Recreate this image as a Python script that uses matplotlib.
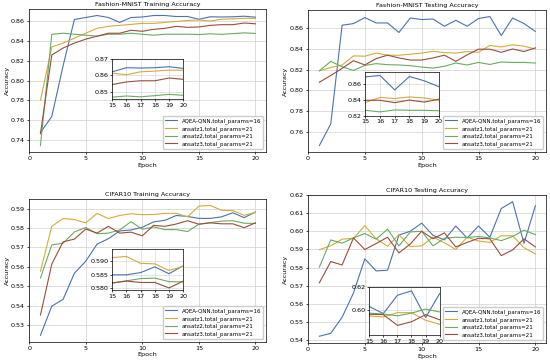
import matplotlib
matplotlib.use("Agg")
import matplotlib.pyplot as plt
import numpy as np

epochs = list(range(1, 21))
labels = ["AQEA-QNN,total_params=16", "ansatz1,total_params=21",
          "ansatz2,total_params=21", "ansatz3,total_params=21"]
colors = ["#4c72b0", "#d1ac3c", "#6aab62", "#9a4d3c"]

fm_train_aqea = [0.7472, 0.7634, 0.815, 0.862, 0.864, 0.866, 0.864, 0.859, 0.864, 0.8645,
                 0.866, 0.866, 0.865, 0.865, 0.8622, 0.8647, 0.8645, 0.8647, 0.8653, 0.8643]
fm_train_a1 = [0.780, 0.834, 0.838, 0.843, 0.848, 0.853, 0.855, 0.856, 0.857, 0.858,
               0.858, 0.859, 0.860, 0.861, 0.8614, 0.8604, 0.8622, 0.8626, 0.8632, 0.8632]
fm_train_a2 = [0.734, 0.8469, 0.848, 0.847, 0.846, 0.845, 0.847, 0.847, 0.848, 0.847,
               0.846, 0.847, 0.847, 0.847, 0.8467, 0.8474, 0.8469, 0.8476, 0.8484, 0.8478]
fm_train_a3 = [0.746, 0.8259, 0.833, 0.838, 0.842, 0.845, 0.848, 0.848, 0.851, 0.850,
               0.852, 0.853, 0.855, 0.854, 0.8544, 0.856, 0.8567, 0.8567, 0.8584, 0.8576]

fm_test_aqea = [0.7465, 0.7674, 0.863, 0.8646, 0.8704, 0.8652, 0.8652, 0.856, 0.870, 0.8685,
                0.869, 0.862, 0.8678, 0.862, 0.8695, 0.8714, 0.853, 0.870, 0.8646, 0.857]
fm_test_a1 = [0.8189, 0.822, 0.8245, 0.8333, 0.833, 0.836, 0.834, 0.8339, 0.835, 0.836,
              0.8378, 0.8365, 0.836, 0.8375, 0.8368, 0.8434, 0.842, 0.844, 0.8427, 0.840]
fm_test_a2 = [0.8189, 0.828, 0.8228, 0.8192, 0.8241, 0.8258, 0.8248, 0.8245, 0.8238, 0.8225,
              0.8215, 0.8232, 0.8264, 0.8245, 0.827, 0.825, 0.8274, 0.827, 0.827, 0.8264]
fm_test_a3 = [0.8078, 0.8143, 0.8212, 0.8287, 0.8245, 0.8307, 0.834, 0.8313, 0.8293, 0.8293,
              0.8313, 0.834, 0.828, 0.8343, 0.8398, 0.8398, 0.8368, 0.840, 0.8375, 0.8411]

cf_train_aqea = [0.5246, 0.5397, 0.5432, 0.5567, 0.5629, 0.5717, 0.5745, 0.5785, 0.579, 0.5804,
                 0.5832, 0.584, 0.5865, 0.586, 0.585, 0.585, 0.5858, 0.5879, 0.5854, 0.5883]
cf_train_a1 = [0.5577, 0.5809, 0.5849, 0.5844, 0.5827, 0.5876, 0.5849, 0.5865, 0.5874, 0.5869,
               0.587, 0.5876, 0.5876, 0.5858, 0.5913, 0.5917, 0.5892, 0.589, 0.5866, 0.5881]
cf_train_a2 = [0.5542, 0.5713, 0.5722, 0.578, 0.5803, 0.5771, 0.5774, 0.579, 0.5833, 0.5794,
               0.5806, 0.5792, 0.5792, 0.5782, 0.582, 0.5828, 0.5836, 0.5838, 0.5825, 0.5824]
cf_train_a3 = [0.5351, 0.5614, 0.5729, 0.5743, 0.5795, 0.5774, 0.5809, 0.5774, 0.5779, 0.576,
               0.5814, 0.5809, 0.5821, 0.5838, 0.582, 0.5827, 0.5822, 0.5822, 0.5802, 0.5827]

cf_test_aqea = [0.5419, 0.5435, 0.5524, 0.5659, 0.5848, 0.5781, 0.5785, 0.598, 0.6001, 0.6046,
                0.5978, 0.5953, 0.603, 0.5963, 0.603, 0.5968, 0.6127, 0.6165, 0.5934, 0.6142]
cf_test_a1 = [0.5899, 0.592, 0.5957, 0.5962, 0.6032, 0.5959, 0.5918, 0.5982, 0.5916, 0.592,
              0.5968, 0.5937, 0.590, 0.5968, 0.5947, 0.5939, 0.5976, 0.5976, 0.591, 0.5875]
cf_test_a2 = [0.5802, 0.5953, 0.5935, 0.5964, 0.5988, 0.5957, 0.6013, 0.592, 0.5997, 0.6001,
              0.592, 0.5962, 0.5968, 0.5966, 0.5972, 0.5964, 0.5949, 0.5972, 0.6007, 0.5982]
cf_test_a3 = [0.5715, 0.5833, 0.5814, 0.5964, 0.590, 0.5933, 0.5968, 0.5881, 0.593, 0.6001,
              0.5959, 0.5992, 0.5914, 0.5939, 0.5962, 0.5959, 0.5866, 0.5897, 0.5959, 0.5914]

panels = [
    dict(title="Fashion-MNIST Training Accuracy",
         series=[fm_train_aqea, fm_train_a1, fm_train_a2, fm_train_a3],
         rect=[0.053, 0.579, 0.431, 0.396],
         inset=[0.35, 0.37, 0.30, 0.28], iylim=(0.8455, 0.87),
         iyticks=[0.85, 0.86, 0.87]),
    dict(title="Fashion-MNIST Testing Accuracy",
         series=[fm_test_aqea, fm_test_a1, fm_test_a2, fm_test_a3],
         rect=[0.560, 0.579, 0.433, 0.393],
         inset=[0.24, 0.255, 0.31, 0.31], iylim=(0.82, 0.876),
         iyticks=[0.82, 0.84, 0.86]),
    dict(title="CIFAR10 Training Accuracy",
         series=[cf_train_aqea, cf_train_a1, cf_train_a2, cf_train_a3],
         rect=[0.053, 0.053, 0.431, 0.396],
         inset=[0.35, 0.362, 0.30, 0.285], iylim=(0.5794, 0.5943),
         iyticks=[0.580, 0.585, 0.590]),
    dict(title="CIFAR10 Testing Accuracy",
         series=[cf_test_aqea, cf_test_a1, cf_test_a2, cf_test_a3],
         rect=[0.560, 0.050, 0.433, 0.410],
         inset=[0.257, 0.052, 0.296, 0.327], iylim=(0.578, 0.62),
         iyticks=[0.60, 0.62]),
]

fig = plt.figure(figsize=(5.5, 3.61), dpi=100)
fs = 4.6
lfs = 4.0
for i, p in enumerate(panels):
    ax = fig.add_axes(p["rect"])
    for s, c, l in zip(p["series"], colors, labels):
        ax.plot(epochs, s, color=c, lw=0.8, label=l)
    ax.set_title(p["title"], fontsize=fs, pad=2)
    ax.set_xlabel("Epoch", fontsize=fs, labelpad=1)
    ax.set_ylabel("Accuracy", fontsize=fs, labelpad=1)
    ax.set_xticks([0, 5, 10, 15, 20])
    ax.tick_params(labelsize=fs, length=1.5, pad=1.5, width=0.5)
    ax.grid(True, color="#d0d0d0", lw=0.5)
    ax.set_axisbelow(True)
    for sp in ax.spines.values():
        sp.set_linewidth(0.5)
    ax.legend(loc="lower right", fontsize=lfs, frameon=True, fancybox=True,
              handlelength=2.2, borderpad=0.4, labelspacing=0.35, framealpha=1,
              edgecolor="#cccccc")
    ia = ax.inset_axes(p["inset"])
    for s, c in zip(p["series"], colors):
        ia.plot(epochs, s, color=c, lw=0.8)
    ia.set_xlim(15, 20)
    ia.set_ylim(*p["iylim"])
    ia.set_xticks([15, 16, 17, 18, 19, 20])
    ia.set_yticks(p["iyticks"])
    if i == 2:
        ia.yaxis.set_major_formatter(matplotlib.ticker.FormatStrFormatter("%.3f"))
    ia.tick_params(labelsize=fs, length=1.5, pad=1, width=0.5)
    ia.grid(True, color="#d0d0d0", lw=0.4)
    ia.set_facecolor("white")
    for sp in ia.spines.values():
        sp.set_linewidth(0.5)

fig.savefig("out.png", dpi=100)
